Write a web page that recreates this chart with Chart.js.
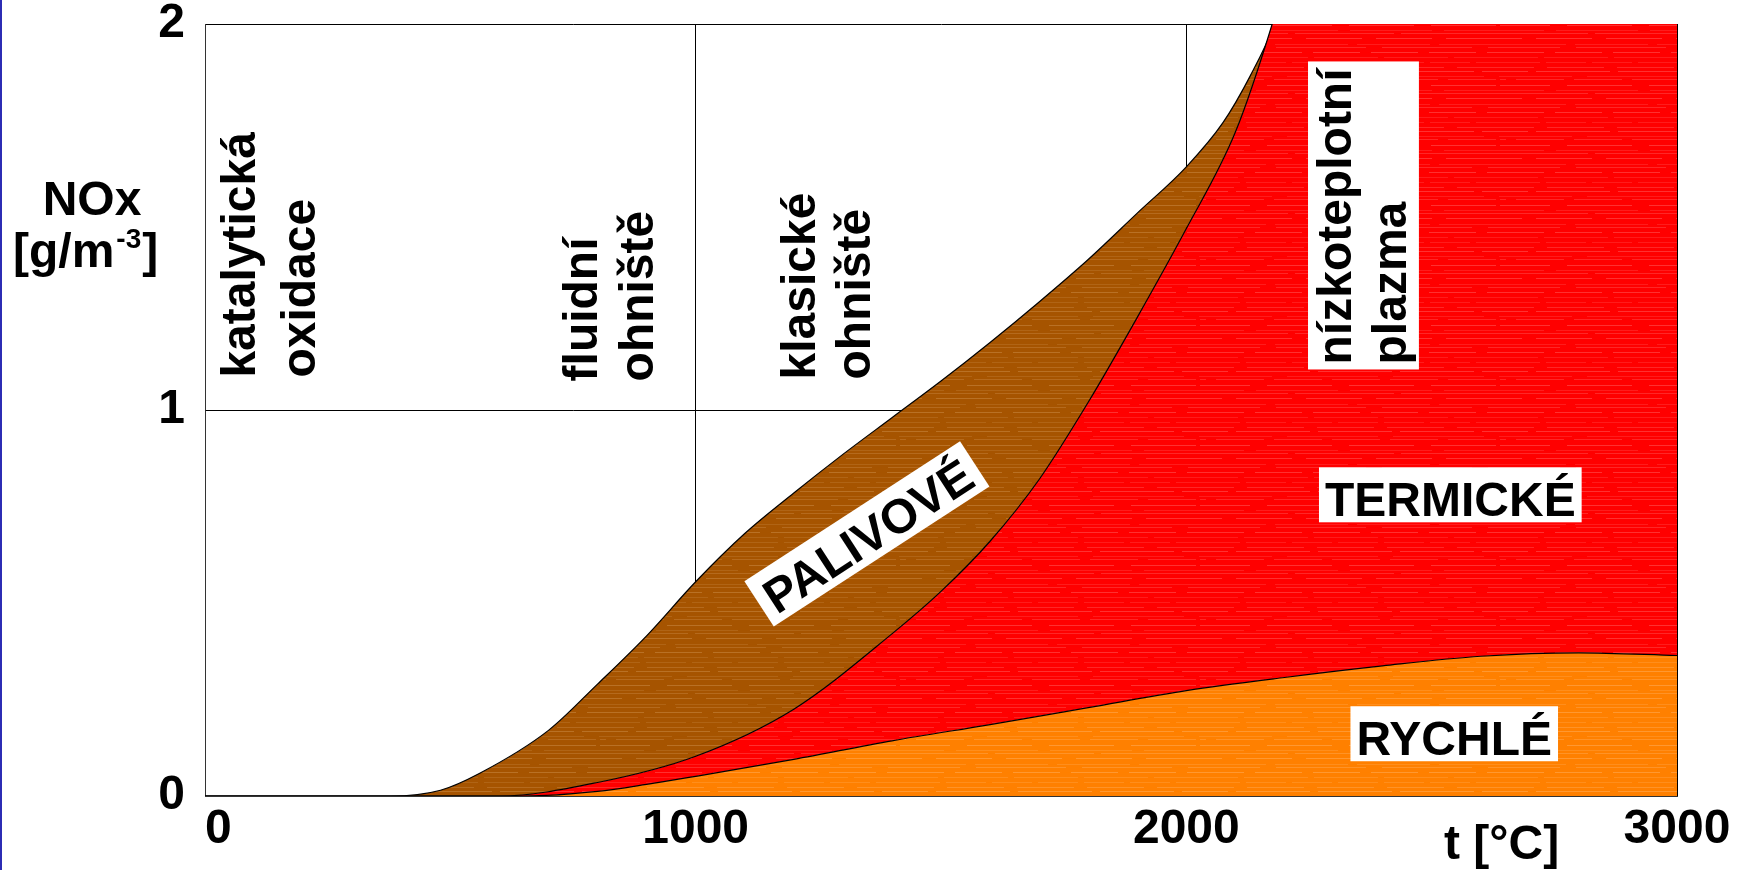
<!DOCTYPE html>
<html><head><meta charset="utf-8">
<script src="https://cdn.jsdelivr.net/npm/chart.js@4/dist/chart.umd.min.js"></script>
<style>html,body{margin:0;padding:0;background:#fff;overflow:hidden}canvas{display:block}</style>
</head><body>
<canvas id="c" width="1744" height="870" style="width:1744px;height:870px"></canvas>
<script>
// ---- data ----
const xTicks = [0, 1000, 2000, 3000];
const xTickLabels = ['0', '1000', '2000', '3000'];
const yTicks = [0, 1, 2];
const yTickLabels = ['0', '1', '2'];

// RYCHLÉ (prompt NOx) upper boundary
const rychleT = [0, 650, 800, 900, 1000, 1200, 1400, 1600, 1800, 2000, 2200, 2400, 2600, 2800, 3000];
const rychleV = [0, 0, 0.012, 0.03, 0.051, 0.095, 0.143, 0.185, 0.229, 0.273, 0.307, 0.337, 0.362, 0.371, 0.364];

// TERMICKÉ (thermal NOx) upper boundary
const termickeT = [0, 600, 800, 1000, 1200, 1400, 1500, 1600, 1700, 1800, 1900, 2000, 2100, 2175, 2230, 3000];
const termickeV = [0, 0, 0.035, 0.103, 0.225, 0.42, 0.53, 0.66, 0.82, 1.02, 1.24, 1.47, 1.72, 2.0, 2.25, 2.25];

// PALIVOVÉ (fuel NOx) upper boundary
const palivoveT = [0, 377, 480, 560, 700, 800, 900, 1000, 1100, 1200, 1300, 1400, 1500, 1600, 1700, 1800, 1900, 2000, 2075, 2130, 2180, 2230, 3000];
const palivoveV = [0, 0, 0.015, 0.059, 0.17, 0.29, 0.415, 0.555, 0.68, 0.785, 0.885, 0.98, 1.075, 1.175, 1.28, 1.39, 1.51, 1.63, 1.745, 1.865, 2.0, 2.2, 2.2];

const seriesNames = ['RYCHLÉ', 'TERMICKÉ', 'PALIVOVÉ'];
const regionLines = [['katalytická', 'oxidace'], ['fluidní', 'ohniště'], ['klasické', 'ohniště'], ['nízkoteplotní', 'plazma']];
const yTitle = ['NOx', '[g/m', '-3', ']'];
const xTitle = 't [°C]';

// ---- styling helpers ----
const FONT = '"Liberation Sans", Arial, Helvetica, sans-serif';
function makePattern(base, streak) {
  const c = document.createElement('canvas');
  c.width = 300; c.height = 60;
  const g = c.getContext('2d');
  g.fillStyle = base; g.fillRect(0, 0, 300, 60);
  const rows = [2, 7, 11, 16, 19, 25, 30, 33, 38, 44, 47, 52, 57];
  g.strokeStyle = streak; g.lineWidth = 1;
  rows.forEach((r, k) => {
    g.globalAlpha = 0.22 + (k % 3) * 0.08;
    g.beginPath();
    g.setLineDash([40 + (k * 17) % 60, 6 + (k * 7) % 12]);
    g.moveTo(-(k * 23) % 50, r + 0.5); g.lineTo(300, r + 0.5); g.stroke();
  });
  return g.createPattern(c, 'repeat');
}
const orangeFill = makePattern('#ff8000', '#ffc080');
const redFill = makePattern('#ff0000', '#ff8080');
const brownFill = makePattern('#a65400', '#d8a060');

const pts = (T, V) => T.map((t, i) => ({ x: t, y: V[i] }));

const decor = {
  id: 'decor',
  beforeDraw(chart) {
    const c = chart.ctx;
    c.save();
    c.fillStyle = '#ffffff'; c.fillRect(0, 0, chart.width, chart.height);
    c.fillStyle = '#2c2cb4'; c.fillRect(0, 0, 2, chart.height);
    c.restore();
  },
  afterDraw(chart) {
    const c = chart.ctx, xs = chart.scales.x, ys = chart.scales.y;
    const X = t => xs.getPixelForValue(t), Y = v => ys.getPixelForValue(v);
    c.save();
    c.font = 'bold 48px ' + FONT;

    // white box behind "nízkoteplotní plazma"
    c.fillStyle = '#fff';
    c.fillRect(X(2248), Y(1.903), X(2474) - X(2248), Y(1.105) - Y(1.903));

    // rotated region labels
    const rot = [
      [regionLines[0][0], 102, 1.084], [regionLines[0][1], 224, 1.084],
      [regionLines[1][0], 799, 1.074], [regionLines[1][1], 913, 1.074],
      [regionLines[2][0], 1243, 1.079], [regionLines[2][1], 1355, 1.079],
      [regionLines[3][0], 2336, 1.118], [regionLines[3][1], 2448, 1.118]
    ];
    c.fillStyle = '#000';
    c.textAlign = 'left'; c.textBaseline = 'alphabetic';
    rot.forEach(([txt, t, v]) => {
      c.save();
      c.translate(X(t), Y(v));
      c.rotate(-Math.PI / 2);
      c.fillText(txt, 0, 0);
      c.restore();
    });

    // boxed horizontal labels
    const boxed = (txt, t, v) => {
      const w = c.measureText(txt).width;
      const cx = X(t), cy = Y(v);
      c.fillStyle = '#fff';
      c.fillRect(cx - w / 2 - 6, cy - 28, w + 12, 55);
      c.fillStyle = '#000';
      c.textAlign = 'center'; c.textBaseline = 'alphabetic';
      c.fillText(txt, cx, cy + 21);
    };
    boxed(seriesNames[1], 2538, 0.779);
    boxed(seriesNames[0], 2546, 0.160);

    // rotated PALIVOVÉ
    c.save();
    c.translate(X(1349), Y(0.679));
    c.rotate(-33 * Math.PI / 180);
    const pw = c.measureText(seriesNames[2]).width;
    c.fillStyle = '#fff';
    c.fillRect(-pw / 2 - 9, -27, pw + 18, 54);
    c.fillStyle = '#000';
    c.textAlign = 'center'; c.textBaseline = 'alphabetic';
    c.fillText(seriesNames[2], 0, 19);
    c.restore();

    // axis titles
    c.fillStyle = '#000';
    c.textAlign = 'center';
    c.fillText(yTitle[0], 92, 215);
    c.textAlign = 'left';
    let x0 = 13;
    c.fillText(yTitle[1], x0, 267); x0 += c.measureText(yTitle[1]).width;
    c.font = 'bold 28px ' + FONT;
    c.fillText(yTitle[2], x0 + 2, 248); x0 += c.measureText(yTitle[2]).width + 3;
    c.font = 'bold 48px ' + FONT;
    c.fillText(yTitle[3], x0, 267);
    c.fillText(xTitle, 1444, 859);
    c.restore();
  }
};

new Chart(document.getElementById('c'), {
  type: 'line',
  data: {
    datasets: [
      { label: seriesNames[0], data: pts(rychleT, rychleV), fill: 'origin', backgroundColor: orangeFill },
      { label: seriesNames[1], data: pts(termickeT, termickeV), fill: '-1', backgroundColor: redFill },
      { label: seriesNames[2], data: pts(palivoveT, palivoveV), fill: '-1', backgroundColor: brownFill }
    ]
  },
  options: {
    responsive: false,
    animation: false,
    devicePixelRatio: 1,
    layout: { padding: { top: 24, right: 67, bottom: 0, left: 0 } },
    elements: {
      line: { borderColor: '#000', borderWidth: 1.2, cubicInterpolationMode: 'monotone' },
      point: { radius: 0, hoverRadius: 0 }
    },
    plugins: { legend: { display: false }, tooltip: { enabled: false } },
    scales: {
      x: {
        type: 'linear', min: 0, max: 3000, z: 1,
        afterBuildTicks: s => { s.ticks = xTicks.map(v => ({ value: v })); },
        afterFit: s => { s.height = 74; s.paddingLeft = 0; s.paddingRight = 0; },
        grid: { color: '#000', lineWidth: 1, drawTicks: false },
        border: { color: '#333', width: 1 },
        ticks: {
          padding: 5, maxRotation: 0, autoSkip: false, color: '#000',
          font: { family: FONT, size: 48, weight: 'bold' },
          callback: (v, i) => (i === 0 ? '  ' : '') + xTickLabels[i]
        }
      },
      y: {
        min: 0, max: 2, z: 1,
        afterBuildTicks: s => { s.ticks = yTicks.map(v => ({ value: v })); },
        afterFit: s => { s.width = 205; s.paddingTop = 0; s.paddingBottom = 0; },
        grid: { color: '#000', lineWidth: 1, drawTicks: false },
        border: { color: '#333', width: 1 },
        ticks: {
          padding: 20, color: '#000',
          font: { family: FONT, size: 48, weight: 'bold', lineHeight: 1 },
          callback: (v, i) => yTickLabels[i]
        }
      }
    }
  },
  plugins: [decor]
});
</script>
</body></html>
